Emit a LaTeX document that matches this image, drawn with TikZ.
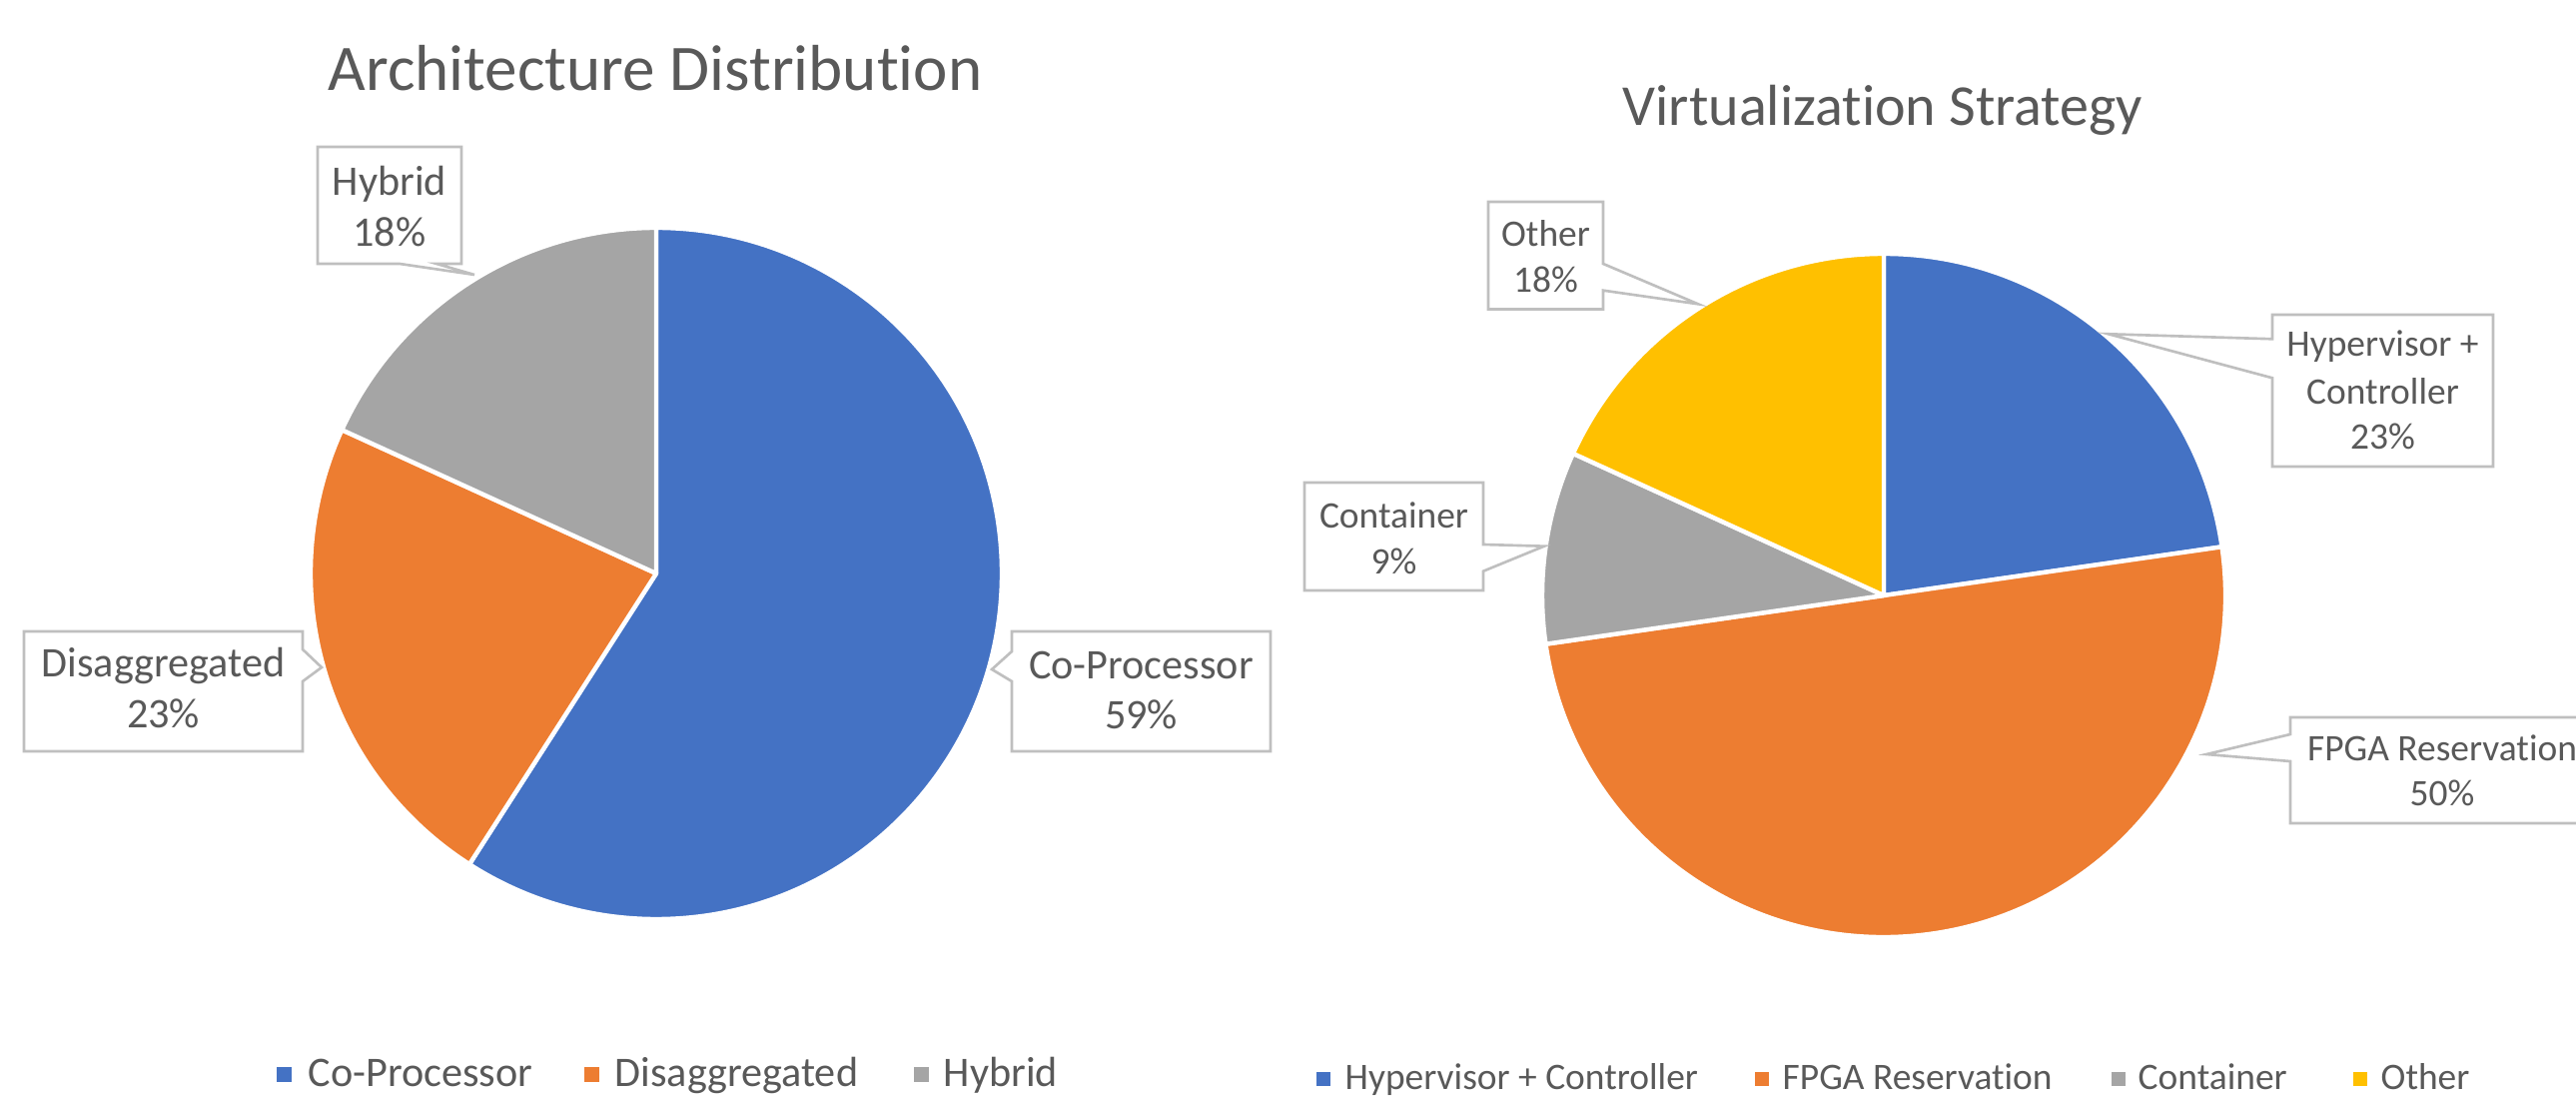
\documentclass[tikz,border=0pt]{standalone}
\usepackage{fontspec}
\setmainfont[Ligatures=NoCommon]{Carlito}
\definecolor{cpblue}{HTML}{4472C4}
\definecolor{cporange}{HTML}{ED7D31}
\definecolor{cpgray}{HTML}{A5A5A5}
\definecolor{cpyellow}{HTML}{FFC000}
\definecolor{txtgray}{HTML}{595959}
\definecolor{boxgray}{HTML}{BFBFBF}
\tikzset{
  slice/.style={draw=white, line width=1.25pt, line join=round},
  callout/.style={draw=boxgray, fill=white, line width=0.75pt, line join=miter},
  lblA/.style={font=\fontsize{12}{14}\selectfont, text=txtgray, inner sep=0pt, anchor=base},
  lblB/.style={font=\fontsize{10.65}{13}\selectfont, text=txtgray, inner sep=0pt, anchor=base},
  legA/.style={font=\fontsize{12}{14}\selectfont, text=txtgray, inner sep=0pt, anchor=base west},
  legB/.style={font=\fontsize{10.65}{13}\selectfont, text=txtgray, inner sep=0pt, anchor=base west},
  titleA/.style={font=\fontsize{18.5}{22}\selectfont, text=txtgray, inner sep=0pt, anchor=base},
  titleB/.style={font=\fontsize{16.5}{20}\selectfont, text=txtgray, inner sep=0pt, anchor=base},
}
\begin{document}
\begin{tikzpicture}[x=0.01cm, y=0.01cm]
\useasboundingbox (0,0) rectangle (2579,-1098);
\fill[white] (0,0) rectangle (2579,-1098);

% ---------------- Architecture Distribution ----------------
\node[titleA] (titleArch) at (656,-91) {Architecture Distribution};
\coordinate (archC) at (657,-574);
\filldraw[slice, fill=cpblue]   (archC) -- ++(90:346) arc[start angle=90, end angle=-122.727, radius=346] -- cycle;
\filldraw[slice, fill=cporange] (archC) -- ++(-122.727:346) arc[start angle=-122.727, end angle=-204.545, radius=346] -- cycle;
\filldraw[slice, fill=cpgray]   (archC) -- ++(155.455:346) arc[start angle=155.455, end angle=90, radius=346] -- cycle;

% data callouts
\draw[callout] (318,-147) -- (462,-147) -- (462,-264) -- (437,-264) -- (475,-275) -- (400,-264) -- (318,-264) -- cycle;
\node[lblA] (hybName) at (390,-196) {Hybrid};
\node[lblA] (hybVal) at (390,-246.5) {18\%};

\draw[callout] (24,-632) -- (303,-632) -- (303,-650) -- (322,-668) -- (303,-682) -- (303,-752) -- (24,-752) -- cycle;
\node[lblA] (disName) at (163.5,-678) {Disaggregated};
\node[lblA] (disVal) at (163.5,-729) {23\%};

\draw[callout] (1013,-632) -- (1272,-632) -- (1272,-752) -- (1013,-752) -- (1013,-682) -- (993,-670) -- (1013,-652) -- cycle;
\node[lblA] (copName) at (1142.5,-680) {Co-Processor};
\node[lblA] (copVal) at (1142.5,-730) {59\%};

% legend
\fill[cpblue]   (277,-1068) rectangle ++(15,-15);
\node[legA] (legCop) at (308,-1087) {Co-Processor};
\fill[cporange] (585,-1068) rectangle ++(15,-15);
\node[legA] (legDis) at (615,-1087) {Disaggregated};
\fill[cpgray]   (915,-1068) rectangle ++(15,-15);
\node[legA] (legHyb) at (944,-1087) {Hybrid};

% ---------------- Virtualization Strategy ----------------
\node[titleB] (titleVirt) at (1885,-126) {Virtualization Strategy};
\coordinate (virtC) at (1886,-596);
\filldraw[slice, fill=cpblue]   (virtC) -- ++(90:342) arc[start angle=90, end angle=8.182, radius=342] -- cycle;
\filldraw[slice, fill=cporange] (virtC) -- ++(8.182:342) arc[start angle=8.182, end angle=-171.818, radius=342] -- cycle;
\filldraw[slice, fill=cpgray]   (virtC) -- ++(-171.818:342) arc[start angle=-171.818, end angle=-204.545, radius=342] -- cycle;
\filldraw[slice, fill=cpyellow] (virtC) -- ++(155.455:342) arc[start angle=155.455, end angle=90, radius=342] -- cycle;

% data callouts
\draw[callout] (1490,-202) -- (1605,-202) -- (1605,-264) -- (1700,-304.3) -- (1605,-290.7) -- (1605,-309.5) -- (1490,-309.5) -- cycle;
\node[lblB] (othName) at (1547.5,-246.5) {Other};
\node[lblB] (othVal) at (1547.5,-292.7) {18\%};

\draw[callout] (1306,-483) -- (1485,-483) -- (1485,-545) -- (1546,-546.7) -- (1485,-571.7) -- (1485,-591) -- (1306,-591) -- cycle;
\node[lblB] (conName) at (1395.5,-528.7) {Container};
\node[lblB] (conVal) at (1395.5,-574.2) {9\%};

\draw[callout] (2275,-315) -- (2496,-315) -- (2496,-467) -- (2275,-467) -- (2275,-378.3) -- (2110.7,-334.3) -- (2275,-339.3) -- cycle;
\node[lblB] (hypName) at (2385.5,-357) {Hypervisor +};
\node[lblB] (hypCtl) at (2385.5,-404.8) {Controller};
\node[lblB] (hypVal) at (2385.5,-450) {23\%};

\draw[callout] (2293,-718) -- (2597,-718) -- (2597,-824) -- (2293,-824) -- (2293,-762) -- (2209,-755) -- (2293,-735) -- cycle;
\node[lblB] (fpgName) at (2445,-761.5) {FPGA Reservation};
\node[lblB] (fpgVal) at (2445,-807) {50\%};

% legend
\fill[cpblue]   (1318,-1073) rectangle ++(14,-14);
\node[legB] (legHyp) at (1346,-1090) {Hypervisor + Controller};
\fill[cporange] (1757,-1073) rectangle ++(14,-14);
\node[legB] (legFpg) at (1784,-1090) {FPGA Reservation};
\fill[cpgray]   (2114,-1073) rectangle ++(14,-14);
\node[legB] (legCon) at (2140,-1090) {Container};
\fill[cpyellow] (2356,-1073) rectangle ++(14,-14);
\node[legB] (legOth) at (2383,-1090) {Other};
\end{tikzpicture}
\end{document}
